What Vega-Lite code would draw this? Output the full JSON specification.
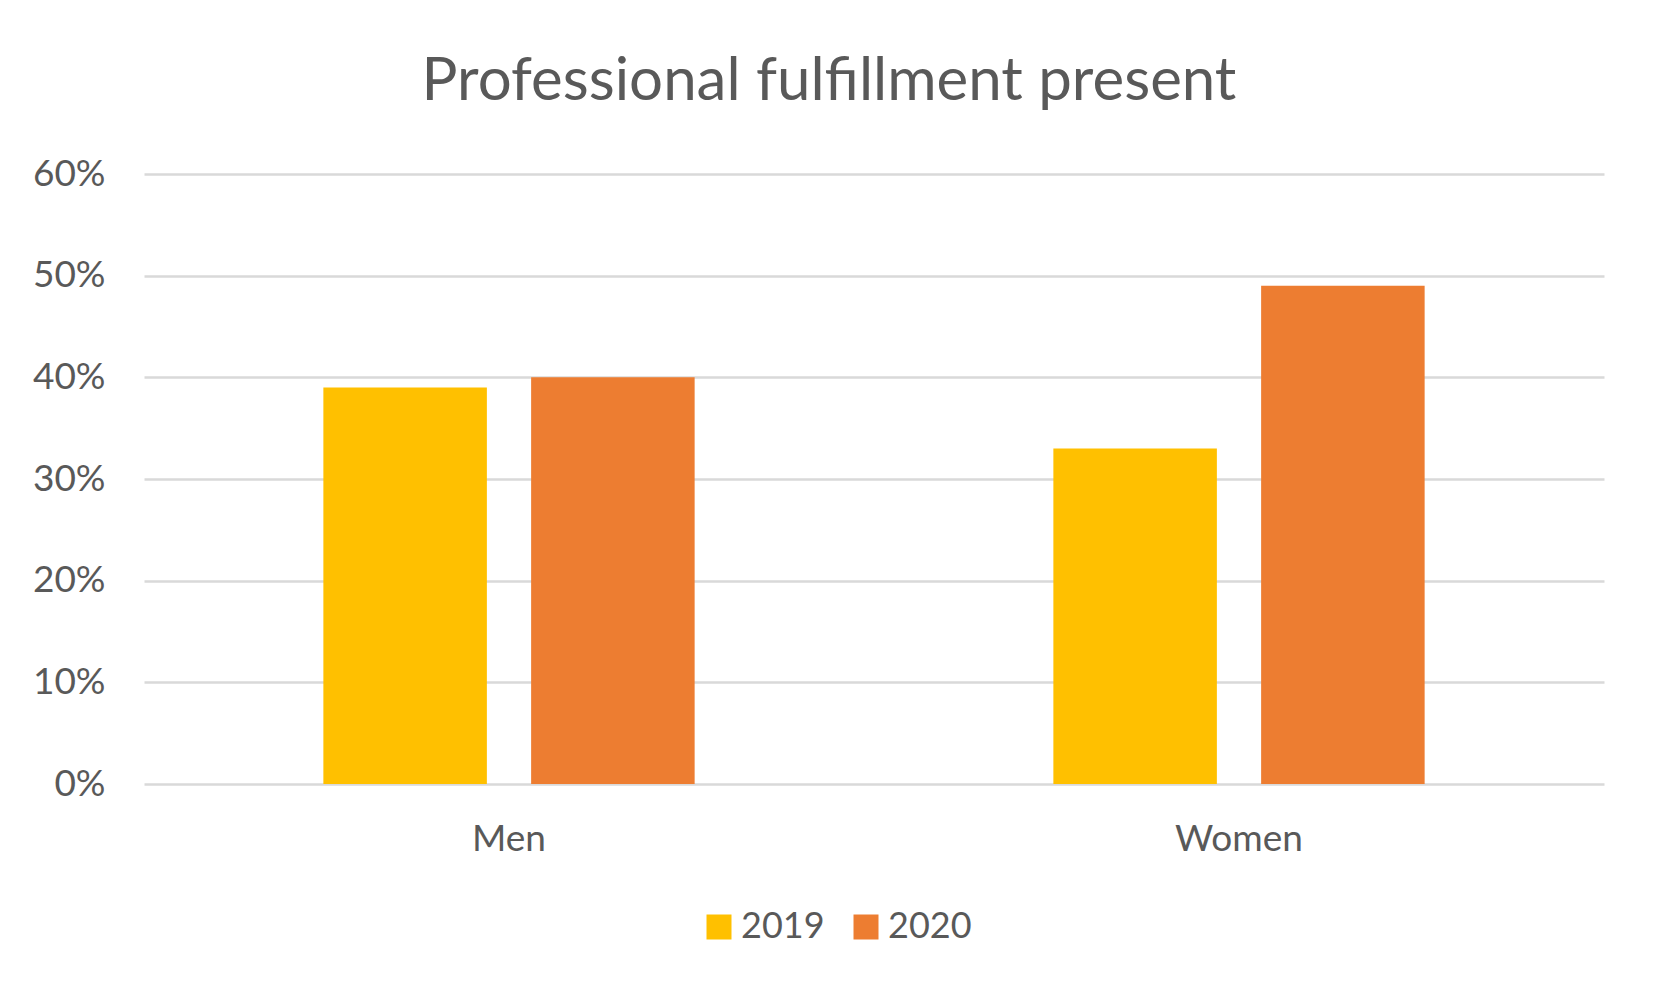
{
  "$schema": "https://vega.github.io/schema/vega-lite/v6.json",
  "autosize": {"type": "none"},
  "padding": {"left": 144, "top": 174, "right": 59, "bottom": 219},
  "width": 1460,
  "height": 610,
  "background": "white",
  "title": {
    "text": "Professional fulfillment present",
    "font": "Lato",
    "fontSize": 60,
    "fontWeight": "normal",
    "color": "#595959",
    "anchor": "middle",
    "dx": -45,
    "offset": 42
  },
  "data": {
    "values": [
      {"gender": "Men", "year": "2019", "share": 0.39},
      {"gender": "Men", "year": "2020", "share": 0.40},
      {"gender": "Women", "year": "2019", "share": 0.33},
      {"gender": "Women", "year": "2020", "share": 0.49}
    ]
  },
  "mark": {"type": "bar"},
  "encoding": {
    "x": {
      "field": "gender",
      "type": "nominal",
      "title": null,
      "scale": {"paddingInner": 0.4914, "paddingOuter": 0.2457},
      "axis": {
        "labelAngle": 0,
        "domain": false,
        "ticks": false,
        "labelFont": "Lato",
        "labelFontSize": 37,
        "labelColor": "#595959",
        "labelPadding": 37
      }
    },
    "xOffset": {
      "field": "year",
      "type": "nominal",
      "scale": {"paddingInner": 0.213, "paddingOuter": 0}
    },
    "y": {
      "field": "share",
      "type": "quantitative",
      "title": null,
      "scale": {"domain": [0, 0.6], "nice": false},
      "axis": {
        "values": [0, 0.1, 0.2, 0.3, 0.4, 0.5, 0.6],
        "format": ".0%",
        "domain": false,
        "ticks": false,
        "grid": true,
        "gridColor": "#D9D9D9",
        "gridWidth": 2.5,
        "labelFont": "Lato",
        "labelFontSize": 37,
        "labelColor": "#595959",
        "labelPadding": 39
      }
    },
    "color": {
      "field": "year",
      "type": "nominal",
      "title": null,
      "scale": {"domain": ["2019", "2020"], "range": ["#FFC000", "#ED7D31"]},
      "legend": {
        "orient": "none",
        "direction": "horizontal",
        "legendX": 557,
        "legendY": 735,
        "symbolType": "square",
        "symbolSize": 625,
        "symbolStrokeWidth": 0,
        "symbolOpacity": 1,
        "labelFont": "Lato",
        "labelFontSize": 36,
        "labelColor": "#595959",
        "labelOffset": 4,
        "columnPadding": 23
      }
    }
  },
  "config": {
    "view": {"stroke": null},
    "axis": {"gridCap": "butt"}
  }
}
